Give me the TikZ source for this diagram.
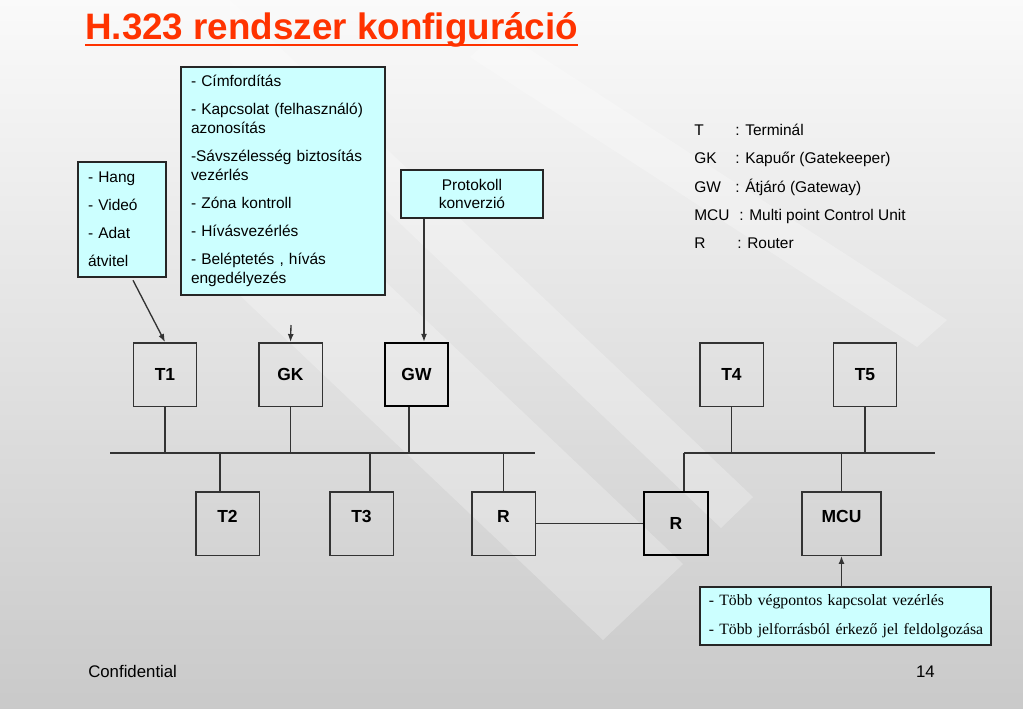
\documentclass[tikz,border=0pt]{standalone}
\usepackage{fontspec}
\setmainfont{Liberation Sans}
\newfontfamily\timesfont{Liberation Serif}
\usepackage{tikz}
\usepackage{xcolor}
\usetikzlibrary{positioning,shapes,arrows.meta}

\definecolor{titlered}{RGB}{255,51,0}
\definecolor{notecyan}{RGB}{204,255,255}
\definecolor{linegray}{RGB}{51,51,51}

\tikzset{
  unit/.style={draw=linegray, line width=1.1pt, minimum width=47.6pt, minimum height=47.6pt, inner sep=0pt, font=\fontsize{13.1}{15}\selectfont\bfseries, text height=9.4pt, text depth=0pt},
  unitlow/.style={unit, text depth=10.5pt},
  note/.style={draw=black!85, line width=0.9pt, fill=notecyan, inner xsep=7.5pt, inner ysep=0pt, align=left, font=\fontsize{11.6}{14.25}\selectfont},
  wire/.style={draw=linegray, line width=1pt},
  arr/.style={wire, -{Latex[length=6pt, width=4.5pt]}},
  stripe/.style={fill=white, opacity=0.25},
  legend/.style={anchor=base west, inner sep=0pt, font=\fontsize{11.6}{14}\selectfont}
}

\begin{document}
\begin{tikzpicture}[x=0.75pt, y=-0.75pt]
\shade[top color=white!98!black, bottom color=white!79!black] (0,0) rectangle (1023,708);
\begin{scope}
\clip (0,0) rectangle (1023,708);
\fill[stripe] (500,30) -- (947,320) -- (917,347) -- (470,57) -- cycle;
\fill[stripe] (230,0) -- (753,497) -- (721,528) -- (230,62) -- cycle;
\fill[stripe] (230,134) -- (683,564) -- (603,640) -- (230,286) -- cycle;
\end{scope}

\node[anchor=base west, inner sep=0pt, text=titlered, font=\fontsize{27.6}{30}\selectfont\bfseries] (title) at (85,39) {H.323 rendszer konfiguráció};
\draw[titlered, line width=1.5pt] ([yshift=-4.2pt]title.base west) -- ([yshift=-4.2pt]title.base east);

\node[note, text width=51pt, minimum height=86.25pt] (hang) at (122,219.5) {- Hang\\[6.75pt]- Videó\\[6.75pt]- Adat\\[6.75pt]átvitel};
\node[note, text width=138pt, minimum height=171pt] (gkinfo) at (283,181) {- Címfordítás\\[6.75pt]- Kapcsolat (felhasználó)\\azonosítás\\[6.75pt]-Sávszélesség biztosítás\\vezérlés\\[6.75pt]- Zóna kontroll\\[6.75pt]- Hívásvezérlés\\[6.75pt]- Beléptetés , hívás\\engedélyezés};
\node[note, align=center, text width=91.5pt, minimum height=36pt, font=\fontsize{11.6}{13.5}\selectfont] (proto) at (472,194) {Protokoll\\konverzió};
\node[note, text width=205pt, inner xsep=6.6pt, minimum height=43.5pt, font=\timesfont\fontsize{11.8}{21.75}\selectfont] (mcunote) at (845.5,616) {\mbox{- Több végpontos kapcsolat vezérlés}\\\mbox{- Több jelforrásból érkező jel feldolgozása}};

\node[legend] (lgt) at (694,135.5) {\makebox[30.75pt][l]{T}: Terminál};
\node[legend] (lggk) at (694,163.75) {\makebox[30.75pt][l]{GK}: Kapuőr (Gatekeeper)};
\node[legend] (lggw) at (694,192) {\makebox[30.75pt][l]{GW}: Átjáró (Gateway)};
\node[legend] (lgmcu) at (694,220.25) {\makebox[33.75pt][l]{MCU}: Multi point Control Unit};
\node[legend] (lgr) at (694,248.5) {\makebox[32.25pt][l]{R}: Router};

\node[unit] (t1) at (165,374.5) {T1};
\node[unit] (gk) at (290.5,374.5) {GK};
\node[unit, draw=black, line width=1.5pt] (gw) at (416.5,374.5) {GW};
\node[unit] (t4) at (731.5,374.5) {T4};
\node[unit] (t5) at (865,374.5) {T5};
\node[unitlow] (t2) at (227.5,523.5) {T2};
\node[unitlow] (t3) at (361.5,523.5) {T3};
\node[unitlow] (r1) at (503.5,523.5) {R};
\node[unit, draw=black, line width=1.5pt] (r2) at (676,523.5) {R};
\node[unitlow, minimum width=59.25pt] (mcu) at (841.5,523.5) {MCU};

\coordinate (busL) at (110,453);
\coordinate (busR) at (535,453);
\coordinate (bus2L) at (684,453);
\coordinate (bus2R) at (935,453);
\coordinate (gwdrop) at (409,453);
\coordinate (t2drop) at (220,453);
\coordinate (t3drop) at (370,453);
\draw[wire] (busL) -- (busR);
\draw[wire] (bus2L) -- (bus2R);
\draw[wire] (t1.south) -- (t1.south |- busL);
\draw[wire] (gk.south) -- (gk.south |- busL);
\draw[wire] (gwdrop) -- (gwdrop |- gw.south);
\draw[wire] (t2drop) -- (t2drop |- t2.north);
\draw[wire] (t3drop) -- (t3drop |- t3.north);
\draw[wire] (r1.north) -- (r1.north |- busL);
\draw[wire] (r1.east) -- (r2.west);
\draw[wire] (bus2L) -- (bus2L |- r2.north);
\draw[wire] (t4.south) -- (t4.south |- bus2L);
\draw[wire] (t5.south) -- (t5.south |- bus2L);
\draw[wire] (mcu.north) -- (mcu.north |- bus2L);

\coordinate (gkin) at (291,325);
\path ([xshift=-36pt]proto.south) coordinate (gwin);
\draw[arr] ([xshift=8.25pt, yshift=-2pt]hang.south) -- (t1.north);
\draw[arr] (gkin) -- (gk.north);
\draw[arr] (gwin) -- (gwin |- gw.north);
\draw[arr] (mcunote.north -| mcu.south) -- (mcu.south);

\node[anchor=base west, inner sep=0pt, font=\fontsize{12.6}{14}\selectfont] (conf) at (88,677) {Confidential};
\node[anchor=base east, inner sep=0pt, font=\fontsize{12.6}{14}\selectfont] (pagenum) at (935,677) {14};

\pgfresetboundingbox
\useasboundingbox (0,0) rectangle (1023,708);
\end{tikzpicture}
\end{document}
